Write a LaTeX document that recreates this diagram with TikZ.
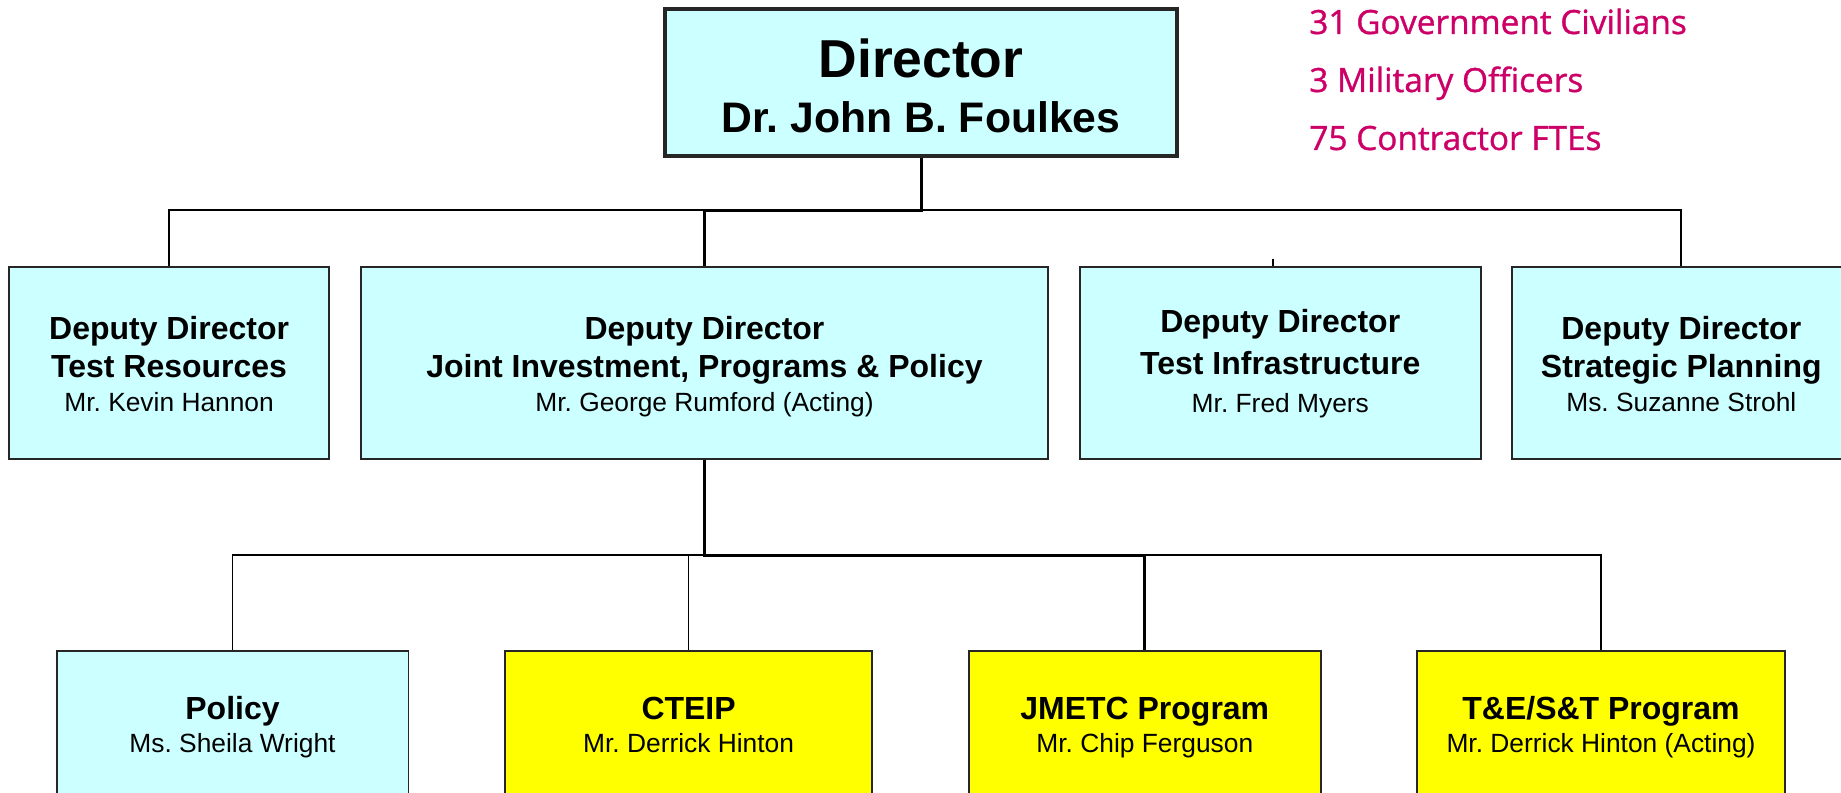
\documentclass[tikz,border=0pt]{standalone}
\usepackage{fontspec}
\setmainfont{Liberation Sans}
\newfontfamily\statfont[FakeBold=1]{Open Sans}
\usepackage{tikz}
\usetikzlibrary{calc}
\definecolor{deskcyan}{HTML}{CCFFFF}
\definecolor{progyellow}{HTML}{FFFF00}
\definecolor{statred}{HTML}{CC0066}

\newcommand{\person}[1]{{\mdseries\fontsize{15}{18}\selectfont #1}}

\begin{document}
\frenchspacing
\begin{tikzpicture}[x=0.02cm, y=-0.02cm,
    deskbox/.style={draw=black!85, line width=1.1pt, fill=deskcyan, align=center, inner sep=0pt,
      font=\bfseries\fontsize{18.2}{21.6}\selectfont, text height=59.3pt, text depth=3.3pt},
    progbox/.style={deskbox, fill=progyellow, font=\bfseries\fontsize{18.2}{18.8}\selectfont,
      text height=36.1pt, text depth=3.3pt},
    link/.style={line width=1pt},
    mainlink/.style={line width=1.7pt},
    stat/.style={anchor=base west, inner sep=0pt, text=statred, font=\statfont\fontsize{19}{22}\selectfont}]
  \useasboundingbox (0,0) rectangle (1841,793);
  \clip (0,0) rectangle (1841,793);

  \coordinate (bus) at (0,210);
  \coordinate (bus2) at (0,555);

  % director
  \node[deskbox, line width=2.3pt, minimum width=10.26cm, minimum height=2.94cm,
    font=\bfseries\fontsize{30.4}{31}\selectfont, text height=56.4pt, text depth=0pt] (dir) at (921,82.5)
    {Director\\{\fontsize{24.3}{28}\selectfont Dr. John B. Foulkes}};

  % staff numbers
  \node[stat] (civ) at (1309,34) {31 Government Civilians};
  \node[stat] (mil) at (1309,92) {3 Military Officers};
  \node[stat] (fte) at (1309,150) {75 Contractor FTEs};

  % deputy directors
  \node[deskbox, minimum width=6.39cm, minimum height=3.85cm] (b1) at (169.1,362.8)
    {Deputy Director\\Test Resources\\[-2.2pt]\person{Mr. Kevin Hannon}};
  \node[deskbox, minimum width=13.76cm, minimum height=3.85cm] (b2) at (704.5,362.8)
    {Deputy Director\\Joint Investment, Programs \& Policy\\[-2.2pt]\person{Mr. George Rumford (Acting)}};
  \node[deskbox, minimum width=8.01cm, minimum height=3.85cm, text height=59.7pt] (b3) at (1280.3,362.8)
    {Deputy Director\\[2.3pt]Test Infrastructure\\\person{Mr. Fred Myers}};
  \node[deskbox, minimum width=6.76cm, minimum height=3.85cm] (b4) at (1681.3,362.8)
    {Deputy Director\\Strategic Planning\\[-2.2pt]\person{Ms. Suzanne Strohl}};

  % offices and programs
  \node[progbox, fill=deskcyan, minimum width=7.04cm, minimum height=2.92cm] (c1) at (232.5,724)
    {Policy\\\person{Ms. Sheila Wright}};
  \node[progbox, minimum width=7.35cm, minimum height=2.92cm] (c2) at (688.6,724)
    {CTEIP\\\person{Mr. Derrick Hinton}};
  \node[progbox, minimum width=7.05cm, minimum height=2.92cm] (c3) at (1144.8,724)
    {JMETC Program\\\person{Mr. Chip Ferguson}};
  \node[progbox, minimum width=7.35cm, minimum height=2.92cm] (c4) at (1601,724)
    {T\&E/S\&T Program\\\person{Mr. Derrick Hinton (Acting)}};

  % lines
  \draw[link] (b1.north) -- (b1.north |- bus) -- (b4.north |- bus) -- (b4.north);
  \draw[link] ($(b3.north)+(-7.5,-7)$) -- ($(b3.north)+(-7.5,0)$);
  \draw[mainlink] (dir.south) -- ($(dir.south |- bus)+(0,1)$) -- ($(b2.north |- bus)+(0,1)$) -- (b2.north);

  \draw[link] (c1.north) -- (c1.north |- bus2) -- (c4.north |- bus2) -- (c4.north);
  \draw[link] (c2.north) -- (c2.north |- bus2);
  \draw[mainlink] (b2.south) -- ($(b2.south |- bus2)+(0,1)$) -- ($(c3.north |- bus2)+(0,1)$) -- (c3.north);
\end{tikzpicture}
\end{document}
